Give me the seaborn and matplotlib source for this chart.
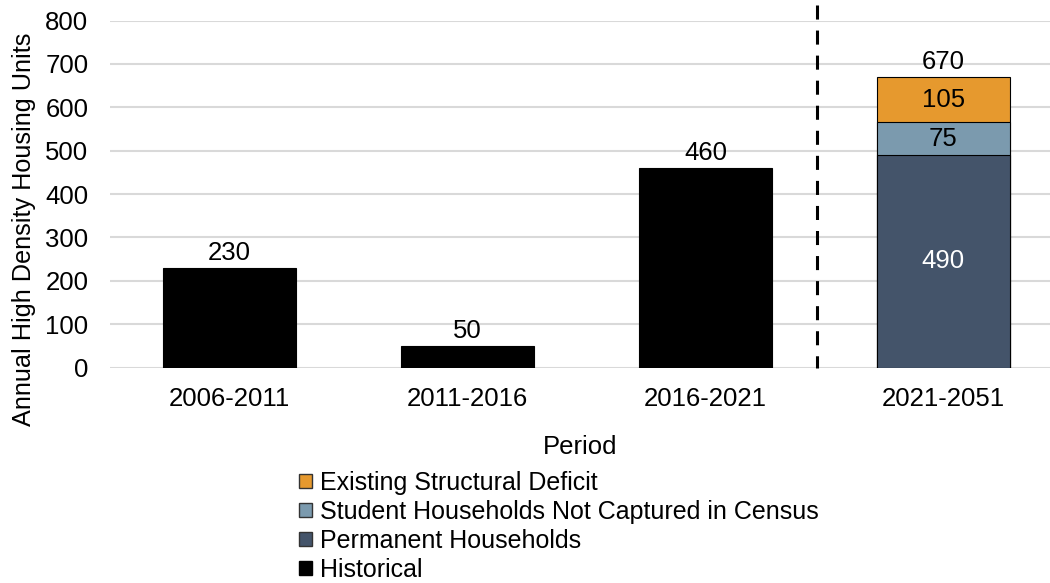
import matplotlib
matplotlib.use("Agg")
import matplotlib.pyplot as plt
import seaborn as sns
import pandas as pd
from matplotlib.patches import Patch

periods = ["2006-2011", "2011-2016", "2016-2021", "2021-2051"]
hist_periods = ["2006-2011", "2011-2016", "2016-2021"]
hist_values = [230, 50, 460]
proj_period = "2021-2051"
permanent = 490
student = 75
deficit = 105
total = 670
yticks = [0, 100, 200, 300, 400, 500, 600, 700, 800]

c_hist = "#000000"
c_perm = "#44546A"
c_stud = "#7B9AAE"
c_def = "#E6992E"

sns.set_theme(style="white")
plt.rcParams["font.family"] = ["Liberation Sans", "DejaVu Sans"]
FS = 18.5
LFS = 18

fig = plt.figure(figsize=(10.5, 5.83), dpi=100)
ax = fig.add_axes([110 / 1050, 1 - 367.5 / 583, 940 / 1050, (367.5 - 20.5) / 583])

df_hist = pd.DataFrame({"Period": hist_periods, "Value": hist_values})
sns.barplot(data=df_hist, x="Period", y="Value", order=periods, color=c_hist,
            saturation=1, width=0.56, edgecolor="black", linewidth=0.8, ax=ax, zorder=3)

layers = [
    (permanent + student + deficit, c_def),
    (permanent + student, c_stud),
    (permanent, c_perm),
]
for val, col in layers:
    d = pd.DataFrame({"Period": [proj_period], "Value": [val]})
    sns.barplot(data=d, x="Period", y="Value", order=periods, color=col,
                saturation=1, width=0.56, edgecolor="black", linewidth=0.8, ax=ax, zorder=3)

# labels
for i, v in enumerate(hist_values):
    ax.text(i, v + 7, f"{v}", ha="center", va="bottom", fontsize=FS, color="black")
xi = periods.index(proj_period)
ax.text(xi, total + 7, f"{total}", ha="center", va="bottom", fontsize=FS, color="black")
ax.text(xi, permanent / 2, f"{permanent}", ha="center", va="center", fontsize=FS, color="white")
ax.text(xi, permanent + student / 2, f"{student}", ha="center", va="center", fontsize=FS, color="black")
ax.text(xi, permanent + student + deficit / 2, f"{deficit}", ha="center", va="center", fontsize=FS, color="black")

ax.set_ylim(0, 800)
ax.set_xlim(-0.502, 3.448)
ax.set_yticks(yticks)
ax.yaxis.grid(True, color="#D9D9D9", linewidth=1.5, zorder=0)
ax.set_axisbelow(True)
for s in ax.spines.values():
    s.set_visible(False)
ax.tick_params(axis="both", length=0, labelsize=FS, colors="black")
ax.tick_params(axis="x", pad=14)
ax.tick_params(axis="y", pad=15.5)
ax.set_xlabel("Period", fontsize=FS, labelpad=17, color="black")
ax.set_ylabel("Annual High Density Housing Units", fontsize=18.2, labelpad=7, color="black")
ax.yaxis.label.set_y(0.399)

# dashed separator
ax.plot([2.47, 2.47], [836, 0], color="black", linestyle=(0, (4.6, 3.6)), linewidth=2.2,
        clip_on=False, zorder=4)

handles = [
    Patch(facecolor=c_def, edgecolor="#333333", linewidth=1, label="Existing Structural Deficit"),
    Patch(facecolor=c_stud, edgecolor="#333333", linewidth=1, label="Student Households Not Captured in Census"),
    Patch(facecolor=c_perm, edgecolor="#333333", linewidth=1, label="Permanent Households"),
    Patch(facecolor=c_hist, edgecolor="black", linewidth=1, label="Historical"),
]
fig.legend(handles=handles, loc="upper left", bbox_to_anchor=(299 / 1050, 1 - 471 / 583),
           frameon=False, fontsize=LFS, handlelength=0.52, handleheight=0.52,
           handletextpad=0.3, labelspacing=0.2, borderaxespad=0, borderpad=0,
           labelcolor="black")

fig.savefig("out.png", dpi=100)
